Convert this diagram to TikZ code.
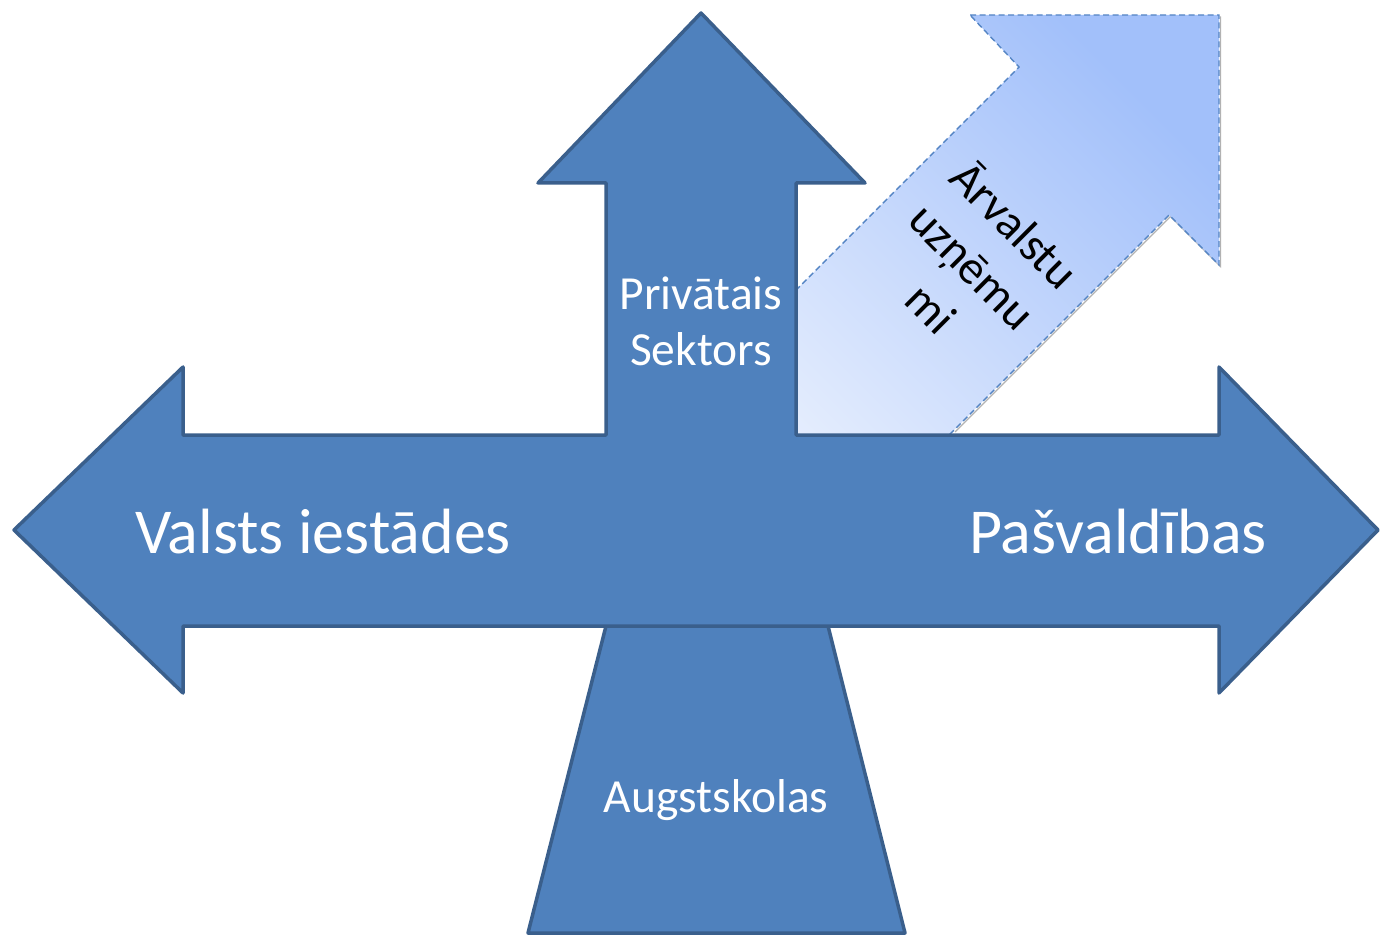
\documentclass[tikz,border=0pt]{standalone}
\usepackage{fontspec}
\setmainfont{Carlito}
\definecolor{mainfill}{HTML}{4F81BD}
\definecolor{mainline}{HTML}{3A5F8C}
\definecolor{diaglight}{HTML}{ECF2FE}
\definecolor{diagdark}{HTML}{A2C0FA}
\definecolor{diagline}{HTML}{5585C4}
\tikzset{
  mainshape/.style={fill=mainfill, draw=mainline, line width=3.5pt, line join=round},
  diagshape/.style={left color=diagdark, right color=diaglight, shading angle=-45,
     draw=diagline, line width=1.4pt, dash pattern=on 6pt off 3.5pt},
  bigtext/.style={text=white, font=\fontsize{64}{76}\selectfont, inner sep=0pt},
  midtext/.style={text=white, font=\fontsize{47.5}{56}\selectfont, align=center, inner sep=0pt},
  diagtext/.style={text=black, font=\fontsize{47.5}{59}\selectfont, align=center, inner sep=0pt, rotate=-45}
}
\begin{document}
\begin{tikzpicture}[x=1pt,y=-1pt]
\useasboundingbox (0,0) rectangle (1380,936);
% bottom trapezoid
\path[mainshape] (606,626) -- (828,626) -- (905,933) -- (528,933) -- cycle;
% diagonal arrow (behind main cross)
\path[draw=gray!60, line width=1.3pt] (1220.5,16.5) -- (1220.5,266.5) -- (1170.5,216.5) -- (955,432);
\path[diagshape] (970,15) -- (1219,15) -- (1219,265) -- (1169,215) -- (904,480) -- (606,480) -- (1019,67) -- cycle;
% main cross arrow
\path[mainshape] (14,530) -- (183,367) -- (183,435) -- (606,435) -- (606,183) -- (538,183)
  -- (701,13) -- (865,183) -- (796,183) -- (796,435) -- (1219,435) -- (1219,367)
  -- (1378,530) -- (1219,693) -- (1219,626) -- (183,626) -- (183,693) -- cycle;
% texts
\node[bigtext] (valsts) at (323,532) {Valsts iestādes};
\node[bigtext] (pasv) at (1118,532) {Pašvaldības};
\node[midtext] (priv) at (701,321) {Privātais\\Sektors};
\node[midtext] (augst) at (716,800) {Augstskolas};
\node[diagtext] (arv) at (974,265) {Ārvalstu\\uzņēmu\\mi};
\end{tikzpicture}
\end{document}
